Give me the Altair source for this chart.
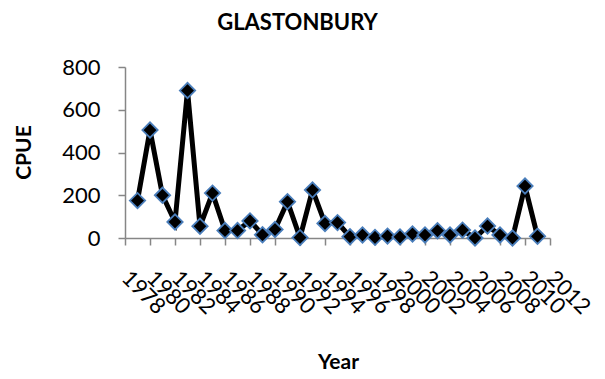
import altair as alt
import pandas as pd

years = list(range(1979, 2012))
cpue = [175, 505, 200, 75, 690, 55, 210, 35, 35, 80, 15, 40, 170, 2, 225,
        68, 72, 6, 14, 3, 9, 5, 19, 14, 34, 14, 37, 0, 56, 14, 0, 243, 8]
x_ticks = list(range(1978, 2013, 2))
y_ticks = [0, 200, 400, 600, 800]

df = pd.DataFrame({"Year": years, "CPUE": cpue})

axis_color = "#868686"
font = "Lato"

base = alt.Chart(df).encode(
    x=alt.X(
        "Year:Q",
        scale=alt.Scale(domain=[1978, 2012], nice=False, zero=False),
        axis=alt.Axis(
            values=x_ticks, format="d", grid=False,
            labelAngle=45, labelAlign="left", labelBaseline="middle",
            labelPadding=29, labelFont=font, labelFontSize=22, labelColor="black",
            labelOverlap=False, labelFlush=False,
            domainColor=axis_color, domainWidth=1.5,
            tickColor=axis_color, tickWidth=1.5, tickSize=7,
            title="Year", titleFont=font, titleFontSize=21, titleFontWeight="bold",
            titleColor="black", titleX=213, titleY=124,
            titleBaseline="middle", titleAlign="center",
        ),
    ),
    y=alt.Y(
        "CPUE:Q",
        scale=alt.Scale(domain=[0, 800], nice=False),
        axis=alt.Axis(
            values=y_ticks, grid=False,
            labelPadding=18, labelFont=font, labelFontSize=22, labelColor="black",
            domainColor=axis_color, domainWidth=1.5,
            tickColor=axis_color, tickWidth=1.5, tickSize=7,
            title="CPUE", titleFont=font, titleFontSize=21, titleFontWeight="bold",
            titleColor="black", titleX=-101, titleY=85, titleAngle=-90,
            titleBaseline="middle", titleAlign="center",
        ),
    ),
)

line = base.mark_line(color="black", strokeWidth=5)
pts = base.mark_point(shape="diamond", filled=True, fill="black",
                      stroke="#4A7EBB", strokeWidth=1.8, size=235, opacity=1)

chart = (line + pts).properties(
    width=425, height=171,
    title=alt.TitleParams("GLASTONBURY", font=font, fontSize=22, fontWeight="bold",
                          color="black", anchor="middle", dx=-40, offset=21),
    padding={"left": 117, "top": 59, "right": 47, "bottom": 133},
    autosize="none",
).configure_view(strokeWidth=0)

chart.save("out.html", embed_options={"renderer": "svg", "actions": False})
